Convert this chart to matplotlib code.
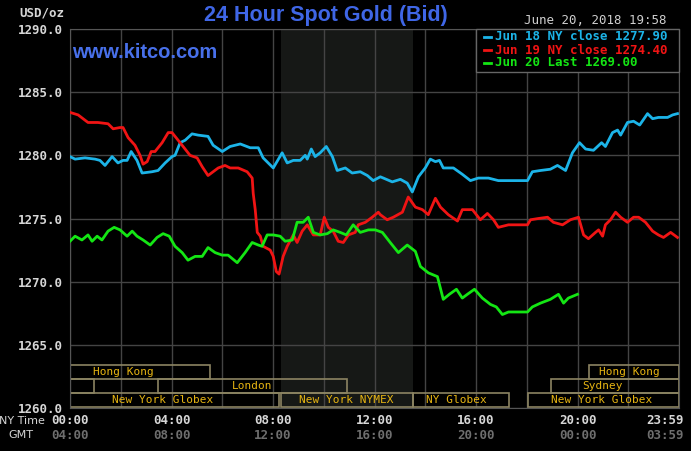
import matplotlib
matplotlib.use("Agg")
import matplotlib.pyplot as plt
from matplotlib.lines import Line2D
from matplotlib.patches import Rectangle
import matplotlib.transforms as mtransforms

# hours since 00:00 NY time, spot bid in USD/oz
jun18_h = [0.00, 0.20, 0.59, 0.99, 1.18, 1.38, 1.66, 1.89, 2.09, 2.25, 2.41, 2.64, 2.84, 3.23, 3.47,
           3.75, 4.02, 4.14, 4.34, 4.54, 4.81, 5.05, 5.44, 5.64, 6.00, 6.31, 6.71, 7.10, 7.42, 7.61,
           8.01, 8.36, 8.56, 8.80, 9.07, 9.27, 9.35, 9.51, 9.66, 9.86, 10.10, 10.34, 10.53, 10.85,
           11.12, 11.44, 11.72, 11.95, 12.23, 12.35, 12.70, 13.02, 13.29, 13.49, 13.73, 14.00, 14.20,
           14.40, 14.56, 14.71, 15.11, 15.46, 15.78, 16.09, 16.49, 16.88, 17.28, 18.03, 18.22, 18.54,
           18.93, 19.21, 19.53, 19.80, 20.08, 20.32, 20.63, 20.95, 21.10, 21.38, 21.58, 21.70, 21.97,
           22.21, 22.45, 22.76, 22.96, 23.19, 23.55, 23.75, 23.94]
jun18_p = [1279.9, 1279.7, 1279.8, 1279.7, 1279.6, 1279.2, 1279.9, 1279.4, 1279.6, 1279.6, 1280.3,
           1279.6, 1278.6, 1278.7, 1278.8, 1279.4, 1279.9, 1280.0, 1281.0, 1281.2, 1281.7, 1281.6,
           1281.5, 1280.8, 1280.3, 1280.7, 1280.9, 1280.6, 1280.6, 1279.8, 1279.0, 1280.2, 1279.4,
           1279.6, 1279.6, 1280.0, 1279.7, 1280.5, 1279.9, 1280.2, 1280.7, 1279.9, 1278.8, 1279.0,
           1278.6, 1278.7, 1278.4, 1278.0, 1278.3, 1278.2, 1277.9, 1278.1, 1277.8, 1277.1, 1278.3,
           1279.0, 1279.7, 1279.5, 1279.6, 1279.0, 1279.0, 1278.5, 1278.0, 1278.2, 1278.2, 1278.0,
           1278.0, 1278.0, 1278.7, 1278.8, 1278.9, 1279.2, 1278.8, 1280.2, 1281.0, 1280.5, 1280.4,
           1281.0, 1280.7, 1281.8, 1282.0, 1281.6, 1282.6, 1282.7, 1282.4, 1283.3, 1282.9, 1283.0,
           1283.0, 1283.2, 1283.3]

jun19_h = [0.00, 0.32, 0.71, 1.10, 1.50, 1.70, 1.97, 2.09, 2.29, 2.56, 2.76, 2.88, 3.04, 3.20, 3.35,
           3.63, 3.87, 4.02, 4.34, 4.73, 5.01, 5.21, 5.44, 5.64, 5.84, 6.11, 6.31, 6.63, 6.98, 7.18,
           7.22, 7.30, 7.38, 7.50, 7.61, 7.89, 8.01, 8.13, 8.24, 8.40, 8.56, 8.80, 8.95, 9.15, 9.35,
           9.59, 9.86, 10.02, 10.18, 10.37, 10.57, 10.77, 10.97, 11.24, 11.36, 11.64, 11.91, 12.15,
           12.23, 12.50, 12.74, 13.10, 13.33, 13.61, 13.89, 14.12, 14.40, 14.60, 14.91, 15.27, 15.46,
           15.86, 16.17, 16.45, 16.69, 16.88, 17.28, 18.03, 18.15, 18.46, 18.82, 19.05, 19.41, 19.72,
           20.04, 20.24, 20.43, 20.71, 20.83, 20.99, 21.10, 21.30, 21.50, 21.70, 21.97, 22.21, 22.41,
           22.68, 22.96, 23.19, 23.39, 23.67, 23.94]
jun19_p = [1283.4, 1283.2, 1282.6, 1282.6, 1282.5, 1282.1, 1282.2, 1282.2, 1281.4, 1280.8, 1280.0,
           1279.3, 1279.5, 1280.3, 1280.3, 1281.0, 1281.8, 1281.8, 1281.0, 1280.0, 1279.8, 1279.1,
           1278.4, 1278.7, 1279.0, 1279.2, 1279.0, 1279.0, 1278.7, 1278.2, 1277.0, 1275.7, 1273.9,
           1273.6, 1272.8, 1272.5, 1272.0, 1270.8, 1270.6, 1272.0, 1272.8, 1273.7, 1273.1, 1274.0,
           1274.5, 1273.7, 1273.7, 1275.1, 1274.3, 1274.0, 1273.2, 1273.1, 1273.7, 1273.9, 1274.5,
           1274.7, 1275.1, 1275.5, 1275.3, 1274.9, 1275.1, 1275.5, 1276.7, 1275.9, 1275.7, 1275.3,
           1276.6, 1275.9, 1275.3, 1274.8, 1275.7, 1275.7, 1274.9, 1275.4, 1274.9, 1274.3, 1274.5,
           1274.5, 1274.9, 1275.0, 1275.1, 1274.7, 1274.5, 1274.9, 1275.1, 1273.7, 1273.4, 1273.9,
           1274.1, 1273.6, 1274.5, 1274.9, 1275.5, 1275.1, 1274.7, 1275.1, 1275.1, 1274.7, 1274.0,
           1273.7, 1273.5, 1273.9, 1273.5]

jun20_h = [0.00, 0.20, 0.47, 0.71, 0.87, 1.07, 1.26, 1.50, 1.74, 1.97, 2.25, 2.45, 2.64, 2.88, 3.16,
           3.43, 3.67, 3.91, 4.14, 4.42, 4.65, 4.93, 5.21, 5.44, 5.72, 6.00, 6.23, 6.59, 6.90, 7.18,
           7.42, 7.57, 7.77, 8.01, 8.28, 8.48, 8.76, 8.95, 9.19, 9.39, 9.59, 9.86, 10.14, 10.37,
           10.65, 10.89, 11.16, 11.44, 11.76, 12.03, 12.31, 12.62, 12.94, 13.29, 13.61, 13.81, 14.12,
           14.48, 14.71, 14.95, 15.23, 15.46, 15.66, 15.94, 16.25, 16.57, 16.80, 17.04, 17.28, 18.03,
           18.22, 18.54, 18.93, 19.25, 19.45, 19.64, 20.00]
jun20_p = [1273.2, 1273.6, 1273.3, 1273.7, 1273.2, 1273.6, 1273.3, 1274.0, 1274.3, 1274.1, 1273.6,
           1274.0, 1273.6, 1273.3, 1272.9, 1273.5, 1273.8, 1273.6, 1272.8, 1272.3, 1271.7, 1272.0,
           1272.0, 1272.7, 1272.3, 1272.1, 1272.1, 1271.5, 1272.3, 1273.1, 1272.9, 1272.8, 1273.7,
           1273.7, 1273.6, 1273.2, 1273.3, 1274.7, 1274.7, 1275.1, 1273.9, 1273.7, 1273.8, 1274.1,
           1273.9, 1273.7, 1274.5, 1273.9, 1274.1, 1274.1, 1273.9, 1273.1, 1272.3, 1272.9, 1272.4,
           1271.2, 1270.7, 1270.4, 1268.6, 1269.0, 1269.4, 1268.7, 1269.0, 1269.4, 1268.7, 1268.2,
           1268.0, 1267.4, 1267.6, 1267.6, 1268.0, 1268.3, 1268.6, 1269.0, 1268.3, 1268.7, 1269.0]

series_labels = ["Jun 18 NY close 1277.90", "Jun 19 NY close 1274.40", "Jun 20 Last 1269.00"]
series_colors = ["#1cb4e8", "#f01414", "#14e614"]

tick_hours = [0, 4, 8, 12, 16, 20, 23.983]
ny_labels = ["00:00", "04:00", "08:00", "12:00", "16:00", "20:00", "23:59"]
gmt_labels = ["04:00", "08:00", "12:00", "16:00", "20:00", "00:00", "03:59"]
y_ticks = [1260, 1265, 1270, 1275, 1280, 1285, 1290]

nymex_open, nymex_close = 8.33, 13.5

# (row, start, end, label, label centre) - row 0 is the top band
sessions = [
    (0, 0.0, 5.5, "Hong Kong", 2.11),
    (1, 0.0, 0.95, "", 0),
    (1, 3.47, 10.93, "London", 7.16),
    (2, 0.0, 8.25, "New York Globex", 3.65),
    (2, 8.33, 13.5, "New York NYMEX", 10.89),
    (2, 13.5, 17.3, "NY Globex", 15.21),
    (2, 18.03, 24.0, "New York Globex", 20.97),
    (1, 18.97, 24.0, "Sydney", 20.97),
    (0, 20.47, 24.0, "Hong Kong", 22.03),
]

mono = "DejaVu Sans Mono"
W, H = 691, 451
fig = plt.figure(figsize=(W / 100, H / 100), dpi=100, facecolor="black")
ax = fig.add_axes([70 / W, 1 - 408 / H, 609 / W, 379 / H])
ax.set_facecolor("black")

ax.axvspan(nymex_open, nymex_close, color="#161816", zorder=0, lw=0)

for h, p, c in zip([jun18_h, jun19_h, jun20_h], [jun18_p, jun19_p, jun20_p], series_colors):
    ax.plot(h, p, color=c, lw=2.0, zorder=3, solid_joinstyle="round")

ax.set_xlim(0, 24)
ax.set_ylim(1260, 1290)
ax.set_xticks(range(0, 25, 2))
ax.set_xticklabels([])
ax.set_yticks(y_ticks)
ax.set_yticklabels([f"{v:.1f}" for v in y_ticks], fontfamily=mono, fontweight="bold",
                   fontsize=9, color="#d6d6d6")
ax.tick_params(length=0, pad=5)
ax.grid(True, color="#444444", lw=1)
ax.set_axisbelow(True)
for s in ax.spines.values():
    s.set_color("#555555")

# session bands along the bottom
band_top = [1263.40, 1262.29, 1261.18]
band_h = 1.11
for row, x0, x1, name, cx in sessions:
    y0 = band_top[row] - band_h
    ax.add_patch(Rectangle((x0, y0), x1 - x0, band_h, fill=False, ec="#8c8462",
                           lw=1.2, zorder=2))
    if name:
        ax.text(cx, y0 + band_h / 2, name, ha="center", va="center", fontfamily=mono,
                fontsize=8, color="#e6b412", zorder=4)

# time labels under the axis (last one hangs right of the frame)
trans = mtransforms.blended_transform_factory(ax.transData, fig.transFigure)
for i, (h, ny, gmt) in enumerate(zip(tick_hours, ny_labels, gmt_labels)):
    ha = "right" if i == len(tick_hours) - 1 else "center"
    tr = trans
    if ha == "right":
        tr = trans + mtransforms.ScaledTranslation(5 / 100, 0, fig.dpi_scale_trans)
    ax.text(h, 1 - 420.5 / H, ny, transform=tr, ha=ha, va="center",
            fontfamily=mono, fontweight="bold", fontsize=9, color="#d6d6d6")
    ax.text(h, 1 - 435.5 / H, gmt, transform=tr, ha=ha, va="center",
            fontfamily=mono, fontweight="bold", fontsize=9, color="#6e6e6e")
fig.text(45 / W, 1 - 420.5 / H, "NY Time", ha="right", va="center", fontsize=8,
         color="#d6d6d6")
fig.text(8 / W, 1 - 435.5 / H, "GMT", ha="left", va="center", fontsize=8,
         color="#d6d6d6")

fig.text(19 / W, 1 - 13 / H, "USD/oz", ha="left", va="center", fontfamily=mono,
         fontweight="bold", fontsize=9, color="#d6d6d6")
fig.text(326 / W, 1 - 15 / H, "24 Hour Spot Gold (Bid)", ha="center", va="center",
         fontfamily="Liberation Sans", fontweight="bold", fontsize=15.5, color="#3f66e6")
fig.text(666 / W, 1 - 21 / H, "June 20, 2018 19:58", ha="right", va="center",
         fontfamily=mono, fontsize=9, color="#cfcfcf")
fig.text(72 / W, 1 - 52 / H, "www.kitco.com", ha="left", va="center",
         fontfamily="Liberation Sans", fontweight="bold", fontsize=14.5, color="#4870ea")

# legend box in the top right corner of the plot
fig.add_artist(Rectangle((476 / W, 1 - 72 / H), 203 / W, 43 / H, transform=fig.transFigure,
                         fc="black", ec="#666666", lw=1, zorder=5))
for i, (lab, c) in enumerate(zip(series_labels, series_colors)):
    yy = 1 - (37 + 13 * i) / H
    fig.add_artist(Line2D([484 / W, 491 / W], [yy, yy], transform=fig.transFigure,
                          color=c, lw=2, zorder=6))
    fig.text(495 / W, yy, lab, ha="left", va="center", fontfamily=mono, fontweight="bold",
             fontsize=9, color=c, zorder=6)

fig.savefig("out.png", dpi=100, facecolor="black")
